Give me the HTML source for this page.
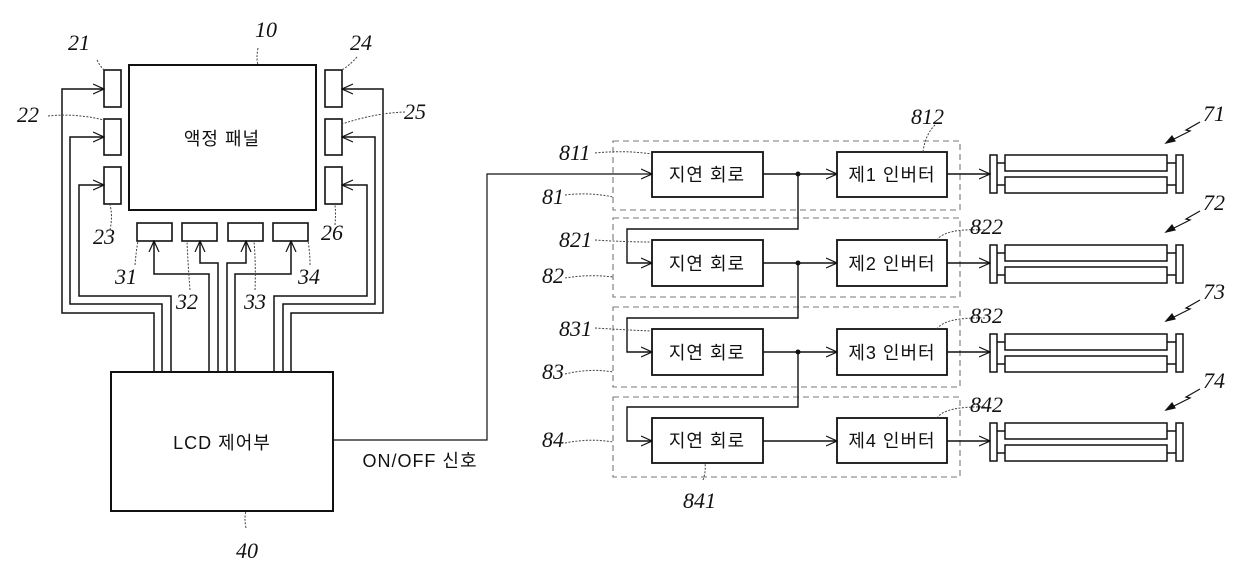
<!DOCTYPE html>
<html><head><meta charset="utf-8"><style>
html,body{margin:0;padding:0;background:#fff}
svg{display:block}
.n{font-family:"Liberation Serif",serif;font-style:italic;font-size:22px;fill:#111}
.k{font-family:"Liberation Sans","Noto Sans CJK KR",sans-serif;font-size:18px;fill:#111;letter-spacing:1px}
</style></head><body>
<svg width="1240" height="574" viewBox="0 0 1240 574" xmlns="http://www.w3.org/2000/svg">
<defs>
<marker id="a" markerWidth="12" markerHeight="12" refX="11" refY="6" orient="auto" markerUnits="userSpaceOnUse">
<path d="M0,1 L11,6 L0,11" fill="none" stroke="#111" stroke-width="1.2"/></marker>
</defs>
<g fill="none" stroke="#111" stroke-width="1.6">
<rect x="129" y="65" width="187" height="145" stroke-width="2"/>
<rect x="104" y="70" width="17" height="37"/><rect x="104" y="119" width="17" height="36"/><rect x="104" y="167" width="17" height="37"/>
<rect x="325" y="70" width="17" height="37"/><rect x="325" y="119" width="17" height="36"/><rect x="325" y="167" width="17" height="37"/>
<rect x="137" y="223" width="35" height="18"/><rect x="182" y="223" width="35" height="18"/><rect x="228" y="223" width="35" height="18"/><rect x="273" y="223" width="35" height="18"/>
<rect x="111" y="372" width="222" height="139" stroke-width="2"/>
<g stroke-width="1.5" marker-end="url(#a)">
<polyline points="154,372 154,313 62,313 62,89 104,89"/>
<polyline points="162,372 162,304 70,304 70,137 104,137"/>
<polyline points="171,372 171,296 79,296 79,185 104,185"/>
<polyline points="209,372 209,274 154,274 154,241"/>
<polyline points="218,372 218,263 200,263 200,241"/>
<polyline points="227,372 227,263 246,263 246,241"/>
<polyline points="235,372 235,274 291,274 291,241"/>
<polyline points="291,372 291,313 383,313 383,89 342,89"/>
<polyline points="283,372 283,304 375,304 375,137 342,137"/>
<polyline points="274,372 274,296 367,296 367,185 342,185"/>
<polyline points="333,440 487,440 487,174 652,174" stroke-width="1.2"/>
</g>
<g stroke="#777" stroke-width="1.1" stroke-dasharray="6,4">
<rect x="613" y="141" width="347" height="69"/>
<rect x="613" y="218" width="347" height="79"/>
<rect x="613" y="307" width="347" height="80"/>
<rect x="613" y="397" width="347" height="80"/>
</g>
<g stroke-width="1.8">
<rect x="652" y="152" width="111" height="45"/><rect x="837" y="152" width="110" height="45"/>
<rect x="652" y="240" width="111" height="46"/><rect x="837" y="240" width="110" height="46"/>
<rect x="652" y="329" width="111" height="46"/><rect x="837" y="329" width="110" height="46"/>
<rect x="652" y="418" width="111" height="45"/><rect x="837" y="418" width="110" height="45"/>
</g>
<g stroke-width="1.4" marker-end="url(#a)">
<polyline points="763,174 837,174"/><polyline points="763,263 837,263"/><polyline points="763,352 837,352"/><polyline points="763,441 837,441"/>
<polyline points="798,174 798,229 627,229 627,263 652,263"/>
<polyline points="798,263 798,318 627,318 627,352 652,352"/>
<polyline points="798,352 798,407 627,407 627,441 652,441"/>
<polyline points="947,174 990,174"/><polyline points="947,263 990,263"/><polyline points="947,352 990,352"/><polyline points="947,441 990,441"/>
</g>
<g stroke-width="1.5">
<g id="L"><rect x="990" y="155" width="7" height="38"/><rect x="1005" y="155" width="162" height="16"/><rect x="1005" y="177" width="162" height="16"/><rect x="1176" y="155" width="7" height="38"/><path d="M997,163H1005M997,185H1005M1167,163H1176M1167,185H1176"/></g>
<use href="#L" y="90"/><use href="#L" y="179"/><use href="#L" y="268"/>
</g>
<g stroke-width="1.2">
<g id="Z"><path d="M1200,122 L1186,130 L1190,131 L1180,136 L1166,143"/><path d="M1166,143 L1172,136 L1175,141Z" fill="#111"/></g>
<use href="#Z" y="89"/><use href="#Z" y="178"/><use href="#Z" y="267"/>
</g>
</g>
<g fill="#111"><circle cx="798" cy="174" r="2.5"/><circle cx="798" cy="263" r="2.5"/><circle cx="798" cy="352" r="2.5"/></g>
<g fill="none" stroke="#444" stroke-width="1" stroke-dasharray="2,1.5">
<path d="M258,48 Q256,58 258,65"/><path d="M97,60 Q100,66 104,70"/><path d="M48,116 Q75,113 104,120"/><path d="M110,230 Q113,216 110,205"/>
<path d="M357,57 Q350,65 342,70"/><path d="M405,112 Q375,113 342,124"/><path d="M335,225 Q336,214 335,205"/>
<path d="M135,265 Q136,252 138,241"/><path d="M190,290 Q188,265 187,241"/><path d="M255,290 Q256,265 254,241"/><path d="M310,265 Q310,252 308,241"/>
<path d="M246,528 Q244,518 246,511"/>
<path d="M595,153 Q625,150 652,154"/><path d="M565,195 Q590,192 613,197"/><path d="M595,240 Q625,242 652,242"/><path d="M565,278 Q590,274 613,277"/>
<path d="M595,328 Q625,330 652,331"/><path d="M565,374 Q590,368 613,372"/><path d="M565,443 Q590,438 613,442"/><path d="M703,480 Q706,472 705,463"/>
<path d="M935,125 Q925,135 923,152"/><path d="M985,230 Q945,228 937,240"/><path d="M985,318 Q945,317 937,329"/><path d="M985,407 Q945,406 937,418"/>
</g>
<g class="n">
<text x="255" y="37">10</text><text x="68" y="50">21</text><text x="17" y="122">22</text><text x="93" y="244">23</text>
<text x="350" y="50">24</text><text x="404" y="119">25</text><text x="321" y="240">26</text>
<text x="115" y="284">31</text><text x="176" y="309">32</text><text x="244" y="309">33</text><text x="298" y="284">34</text>
<text x="236" y="558">40</text>
<text x="559" y="160">811</text><text x="542" y="204">81</text><text x="559" y="247">821</text><text x="542" y="283">82</text>
<text x="559" y="336">831</text><text x="542" y="379">83</text><text x="542" y="447">84</text><text x="683" y="508">841</text>
<text x="911" y="124">812</text><text x="970" y="234">822</text><text x="970" y="323">832</text><text x="970" y="412">842</text>
<text x="1203" y="121">71</text><text x="1203" y="210">72</text><text x="1203" y="299">73</text><text x="1203" y="388">74</text>
</g>
<g class="k" text-anchor="middle">
<text x="222" y="145">액정  패널</text>
<text x="222" y="449">LCD 제어부</text>
<text x="420" y="467">ON/OFF 신호</text>
<text x="707" y="181">지연  회로</text><text x="707" y="270">지연  회로</text><text x="707" y="359">지연  회로</text><text x="707" y="447">지연  회로</text>
<text x="892" y="181">제1 인버터</text><text x="892" y="270">제2 인버터</text><text x="892" y="359">제3 인버터</text><text x="892" y="447">제4 인버터</text>
</g>
</svg>
</body></html>
